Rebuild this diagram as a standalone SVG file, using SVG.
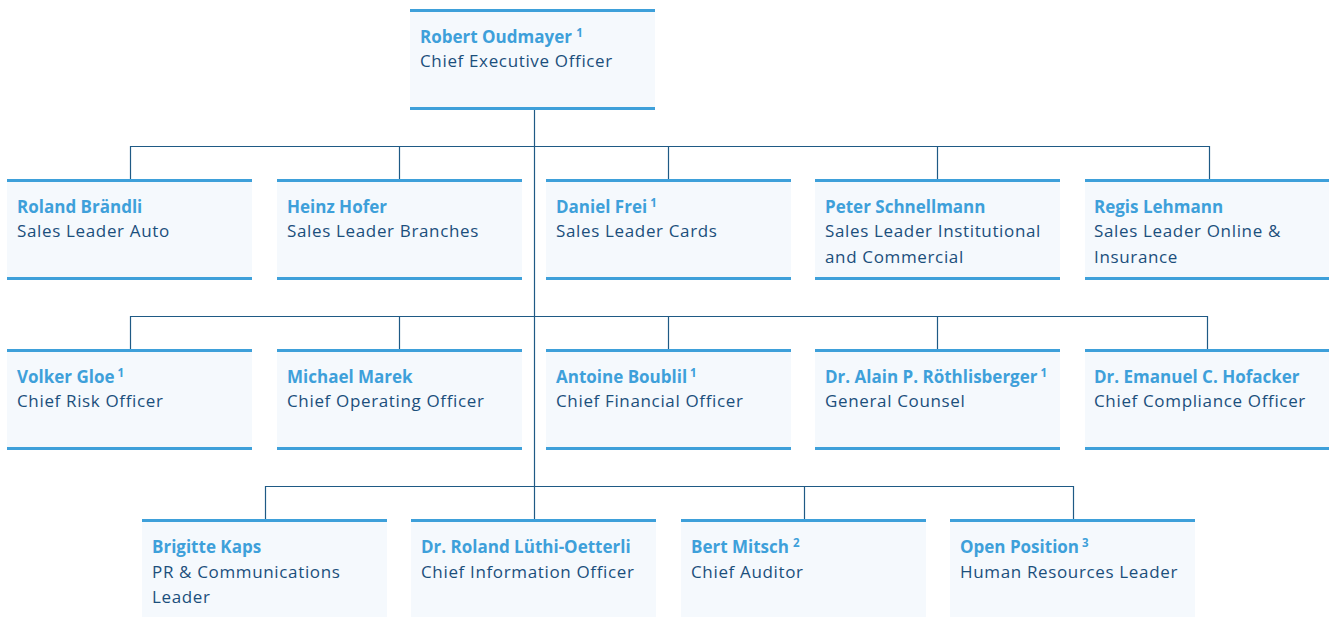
<svg xmlns="http://www.w3.org/2000/svg" width="1329" height="617" viewBox="0 0 1329 617">
<style>
.bg{fill:#f5f9fd}
.bd{fill:#3ea0da}
.nm{font-family:"Open Sans","Noto Sans",sans-serif;font-size:17px;font-weight:bold;fill:#3ea0da}
.tt{font-family:"Open Sans","Noto Sans",sans-serif;font-size:17px;letter-spacing:0.65px;fill:#1b4f7c}
.sp{font-size:11.5px}
.cn{fill:none;stroke:#1f5a85;stroke-width:1.2}
</style>
<rect width="1329" height="617" fill="#ffffff"/>
<g id="connectors" class="cn">
<path d="M534.5 110 V519"/>
<path d="M130.5 179 V146.5 H1209.5 V179 M399.5 146.5 V179 M668.5 146.5 V179 M937.5 146.5 V179"/>
<path d="M130.5 349 V316.5 H1207.5 V349 M399.5 316.5 V349 M668.5 316.5 V349 M937.5 316.5 V349"/>
<path d="M265.5 519 V486.5 H1073.5 V519 M804.5 486.5 V519"/>
</g>
<g id="ceo">
<rect class="bg" x="410" y="9" width="245" height="101"/>
<rect class="bd" x="410" y="9" width="245" height="3"/>
<rect class="bd" x="410" y="107" width="245" height="3"/>
<text class="nm" x="420" y="43">Robert Oudmayer <tspan class="sp" dy="-6">1</tspan></text>
<text class="tt" x="420" y="67">Chief Executive Officer</text>
</g>
<g id="brandli">
<rect class="bg" x="7" y="179" width="245" height="101"/>
<rect class="bd" x="7" y="179" width="245" height="3"/>
<rect class="bd" x="7" y="277" width="245" height="3"/>
<text class="nm" x="17" y="213">Roland Brändli</text>
<text class="tt" x="17" y="237">Sales Leader Auto</text>
</g>
<g id="hofer">
<rect class="bg" x="277" y="179" width="245" height="101"/>
<rect class="bd" x="277" y="179" width="245" height="3"/>
<rect class="bd" x="277" y="277" width="245" height="3"/>
<text class="nm" x="287" y="213">Heinz Hofer</text>
<text class="tt" x="287" y="237">Sales Leader Branches</text>
</g>
<g id="frei">
<rect class="bg" x="546" y="179" width="245" height="101"/>
<rect class="bd" x="546" y="179" width="245" height="3"/>
<rect class="bd" x="546" y="277" width="245" height="3"/>
<text class="nm" x="556" y="213">Daniel Frei<tspan class="sp" dx="3" dy="-6">1</tspan></text>
<text class="tt" x="556" y="237">Sales Leader Cards</text>
</g>
<g id="schnellmann">
<rect class="bg" x="815" y="179" width="245" height="101"/>
<rect class="bd" x="815" y="179" width="245" height="3"/>
<rect class="bd" x="815" y="277" width="245" height="3"/>
<text class="nm" x="825" y="213">Peter Schnellmann</text>
<text class="tt" x="825" y="237">Sales Leader Institutional</text>
<text class="tt" x="825" y="263">and Commercial</text>
</g>
<g id="lehmann">
<rect class="bg" x="1085" y="179" width="244" height="101"/>
<rect class="bd" x="1085" y="179" width="244" height="3"/>
<rect class="bd" x="1085" y="277" width="244" height="3"/>
<text class="nm" x="1094" y="213">Regis Lehmann</text>
<text class="tt" x="1094" y="237">Sales Leader Online &amp;</text>
<text class="tt" x="1094" y="263">Insurance</text>
</g>
<g id="gloe">
<rect class="bg" x="7" y="349" width="245" height="101"/>
<rect class="bd" x="7" y="349" width="245" height="3"/>
<rect class="bd" x="7" y="447" width="245" height="3"/>
<text class="nm" x="17" y="383">Volker Gloe<tspan class="sp" dx="3" dy="-6">1</tspan></text>
<text class="tt" x="17" y="407">Chief Risk Officer</text>
</g>
<g id="marek">
<rect class="bg" x="277" y="349" width="245" height="101"/>
<rect class="bd" x="277" y="349" width="245" height="3"/>
<rect class="bd" x="277" y="447" width="245" height="3"/>
<text class="nm" x="287" y="383">Michael Marek</text>
<text class="tt" x="287" y="407">Chief Operating Officer</text>
</g>
<g id="boublil">
<rect class="bg" x="546" y="349" width="245" height="101"/>
<rect class="bd" x="546" y="349" width="245" height="3"/>
<rect class="bd" x="546" y="447" width="245" height="3"/>
<text class="nm" x="556" y="383">Antoine Boublil<tspan class="sp" dx="3" dy="-6">1</tspan></text>
<text class="tt" x="556" y="407">Chief Financial Officer</text>
</g>
<g id="rothlisberger">
<rect class="bg" x="815" y="349" width="245" height="101"/>
<rect class="bd" x="815" y="349" width="245" height="3"/>
<rect class="bd" x="815" y="447" width="245" height="3"/>
<text class="nm" x="825" y="383">Dr. Alain P. Röthlisberger<tspan class="sp" dx="3" dy="-6">1</tspan></text>
<text class="tt" x="825" y="407">General Counsel</text>
</g>
<g id="hofacker">
<rect class="bg" x="1085" y="349" width="244" height="101"/>
<rect class="bd" x="1085" y="349" width="244" height="3"/>
<rect class="bd" x="1085" y="447" width="244" height="3"/>
<text class="nm" x="1094" y="383">Dr. Emanuel C. Hofacker</text>
<text class="tt" x="1094" y="407">Chief Compliance Officer</text>
</g>
<g id="kaps">
<rect class="bg" x="142" y="519" width="245" height="98"/>
<rect class="bd" x="142" y="519" width="245" height="3"/>
<text class="nm" x="152" y="553">Brigitte Kaps</text>
<text class="tt" x="152" y="578">PR &amp; Communications</text>
<text class="tt" x="152" y="603">Leader</text>
</g>
<g id="luthi">
<rect class="bg" x="411" y="519" width="245" height="98"/>
<rect class="bd" x="411" y="519" width="245" height="3"/>
<text class="nm" x="421" y="553">Dr. Roland Lüthi-Oetterli</text>
<text class="tt" x="421" y="578">Chief Information Officer</text>
</g>
<g id="mitsch">
<rect class="bg" x="681" y="519" width="245" height="98"/>
<rect class="bd" x="681" y="519" width="245" height="3"/>
<text class="nm" x="691" y="553">Bert Mitsch<tspan class="sp" dx="4" dy="-6">2</tspan></text>
<text class="tt" x="691" y="578">Chief Auditor</text>
</g>
<g id="open">
<rect class="bg" x="950" y="519" width="245" height="98"/>
<rect class="bd" x="950" y="519" width="245" height="3"/>
<text class="nm" x="960" y="553">Open Position<tspan class="sp" dx="3" dy="-6">3</tspan></text>
<text class="tt" x="960" y="578">Human Resources Leader</text>
</g>
</svg>
